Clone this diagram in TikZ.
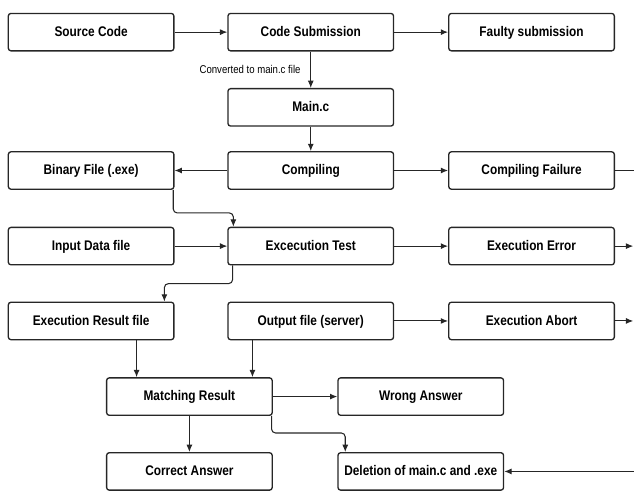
\documentclass[tikz,border=0pt]{standalone}
\usepackage{fontspec}
\setmainfont{Liberation Sans}[FakeStretch=0.85]
\usetikzlibrary{arrows.meta}
\begin{document}
\begin{tikzpicture}[box/.style={draw=black!85,line width=1pt,rounded corners=2pt,inner xsep=1pt,text height=1.6ex,text depth=0.4ex,minimum width=4.38cm,minimum height=0.99cm,font=\fontsize{10.5}{12}\selectfont\bfseries},
  conn/.style={draw=black!85,line width=0.8pt,-{Latex[length=5.5pt,width=4.5pt]}}]
  \useasboundingbox (0,0) rectangle (16.77,12.99);
  \node[box] (src) at (2.41,12.14) {Source Code}; \node[box] (sub) at (8.22,12.14) {Code Submission}; \node[box] (faulty) at (14.06,12.14) {Faulty submission};
  \node[box] (mainc) at (8.22,10.15) {Main.c};
  \node[box] (bin) at (2.41,8.48) {Binary File (.exe)}; \node[box] (comp) at (8.22,8.48) {Compiling}; \node[box] (cfail) at (14.06,8.48) {Compiling Failure};
  \node[box] (input) at (2.41,6.48) {Input Data file}; \node[box] (exec) at (8.22,6.48) {Excecution Test}; \node[box] (eerr) at (14.06,6.48) {Execution Error};
  \node[box] (result) at (2.41,4.50) {Execution Result file}; \node[box] (out) at (8.22,4.50) {Output file (server)}; \node[box] (abort) at (14.06,4.50) {Execution Abort};
  \node[box] (match) at (5.01,2.50) {Matching Result}; \node[box] (wrong) at (11.13,2.50) {Wrong Answer};
  \node[box] (correct) at (5.01,0.52) {Correct Answer}; \node[box] (del) at (11.13,0.52) {Deletion of main.c and .exe};
  \coordinate (e1) at (16.77,8.48); \coordinate (e2) at (16.75,6.48); \coordinate (e3) at (16.75,4.50); \coordinate (e4) at (16.77,0.52);
  \draw[conn] (src) -- (sub); \draw[conn] (sub) -- (faulty);
  \draw[conn] (sub) -- node[left=4pt,font=\fontsize{8.5}{10}\selectfont] {Converted to main.c file} (mainc);
  \draw[conn] (mainc) -- (comp); \draw[conn] (comp) -- (bin); \draw[conn] (comp) -- (cfail); \draw[conn,-] (cfail) -- (e1);
  \draw[conn,rounded corners=3pt] ([xshift=-1pt]bin.south east) -- ++(0,-0.61) -| ([xshift=0.16cm]exec.north west);
  \draw[conn] (input) -- (exec); \draw[conn] (exec) -- (eerr); \draw[conn] (eerr) -- (e2);
  \draw[conn,rounded corners=3pt] ([xshift=0.14cm]exec.south west) -- ++(0,-0.48) -| ([xshift=-0.27cm]result.north east);
  \draw[conn] (out) -- (abort); \draw[conn] (abort) -- (e3);
  \coordinate (m1) at ([xshift=0.81cm]match.north west); \coordinate (m2) at ([xshift=-0.54cm]match.north east);
  \draw[conn] (m1 |- result.south) -- (m1); \draw[conn] (m2 |- out.south) -- (m2);
  \draw[conn] (match) -- (wrong); \draw[conn] (match) -- (correct);
  \draw[conn,rounded corners=3pt] ([xshift=-1pt]match.south east) -- ++(0,-0.45) -| ([xshift=0.21cm]del.north west);
  \draw[conn] (e4) -- (del);
\end{tikzpicture}
\end{document}
